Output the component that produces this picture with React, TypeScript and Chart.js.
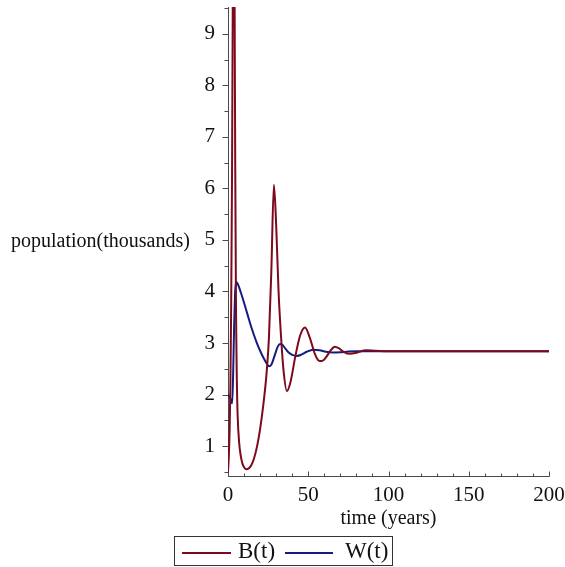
import React, { useEffect, useRef } from "react";
import { Chart, registerables } from "chart.js";

Chart.register(...registerables);

// ---- data ----
const tB = [0, 0.5, 1, 1.5, 2, 2.5, 3, 3.5, 4, 4.5, 5, 5.5, 6, 7, 8, 9, 10, 11.5, 13, 14.5, 16, 18, 20, 22, 24, 25.5, 27, 28.6, 30, 31.5, 33, 34.5, 36.7, 39, 42, 45, 48, 51, 54, 56.5, 58.5, 61, 64, 66.6, 69, 72, 76, 80, 86, 92, 100, 150, 200];
const bValues = [0.5, 0.8, 1.3, 2.2, 3.8, 6.2, 9.8, 12.5, 10.5, 6.5, 3.6, 2.3, 1.6, 1.05, 0.8, 0.66, 0.59, 0.55, 0.57, 0.63, 0.74, 0.98, 1.33, 1.8, 2.4, 3.1, 4.4, 6.07, 5.3, 4.0, 3.15, 2.5, 2.07, 2.25, 2.75, 3.15, 3.3, 3.1, 2.8, 2.66, 2.65, 2.72, 2.86, 2.93, 2.9, 2.83, 2.79, 2.81, 2.86, 2.85, 2.84, 2.84, 2.84];

const tW = [0, 1, 2, 2.6, 3.2, 3.8, 4.4, 5, 6, 8, 10, 12, 14, 16, 18, 20, 22, 24, 25.5, 27, 29, 31, 32.5, 34, 36, 38, 40, 43, 46, 49, 53, 57, 61, 65, 70, 75, 80, 90, 100, 150, 200];
const wValues = [2.0, 1.95, 1.88, 1.83, 2.4, 3.3, 3.95, 4.19, 4.15, 3.98, 3.78, 3.57, 3.36, 3.17, 3.0, 2.85, 2.72, 2.61, 2.55, 2.58, 2.75, 2.93, 2.98, 2.96, 2.88, 2.81, 2.77, 2.75, 2.78, 2.83, 2.87, 2.86, 2.83, 2.815, 2.82, 2.835, 2.84, 2.84, 2.84, 2.84, 2.84];

const seriesNames = ["B(t)", "W(t)"];
const xMajorTicks = [0, 50, 100, 150, 200];
const xMinorTicks = [10, 20, 30, 40, 60, 70, 80, 90, 110, 120, 130, 140, 160, 170, 180, 190];
const yMajorTicks = [1, 2, 3, 4, 5, 6, 7, 8, 9];
const yMinorTicks = [0.5, 1.5, 2.5, 3.5, 4.5, 5.5, 6.5, 7.5, 8.5, 9.5];
const xTitle = "time (years)";
const yTitle = "population(thousands)";

const RED = "#7c0a1c";
const BLUE = "#121c82";
const FONT = "'Liberation Serif', 'Times New Roman', serif";

const axesPlugin = {
  id: "mapleAxes",
  beforeDatasetsDraw(chart: any) {
    const ctx = chart.ctx;
    const xs = chart.scales.x;
    const ys = chart.scales.y;
    const { left, right, top, bottom } = chart.chartArea;
    const x0 = Math.round(left) + 0.5;
    const y0 = Math.round(bottom) + 0.5;
    ctx.save();
    ctx.strokeStyle = "#4a4a4a";
    ctx.lineWidth = 1;
    ctx.beginPath();
    ctx.moveTo(x0, top);
    ctx.lineTo(x0, y0);
    ctx.moveTo(x0, y0);
    ctx.lineTo(right + 0.5, y0);
    yMajorTicks.forEach((v) => {
      const y = Math.round(ys.getPixelForValue(v)) + 0.5;
      ctx.moveTo(x0 - 6, y);
      ctx.lineTo(x0, y);
    });
    yMinorTicks.forEach((v) => {
      const y = Math.round(ys.getPixelForValue(v)) + 0.5;
      ctx.moveTo(x0 - 4, y);
      ctx.lineTo(x0, y);
    });
    xMajorTicks.forEach((v) => {
      const x = Math.round(xs.getPixelForValue(v)) + 0.5;
      ctx.moveTo(x, y0);
      ctx.lineTo(x, y0 - 5);
    });
    xMinorTicks.forEach((v) => {
      const x = Math.round(xs.getPixelForValue(v)) + 0.5;
      ctx.moveTo(x, y0);
      ctx.lineTo(x, y0 - 3);
    });
    ctx.stroke();
    ctx.restore();
  },
  afterDraw(chart: any) {
    const ctx = chart.ctx;
    const { left, right, top, bottom } = chart.chartArea;
    ctx.save();
    ctx.fillStyle = "#111";
    ctx.font = `20px ${FONT}`;
    ctx.textBaseline = "middle";
    ctx.textAlign = "left";
    ctx.fillText(yTitle, 11, (top + bottom) / 2);
    ctx.textAlign = "center";
    ctx.fillText(xTitle, (left + right) / 2, 519);
    ctx.restore();
  },
};

export default function App() {
  const ref = useRef<HTMLCanvasElement>(null);
  useEffect(() => {
    const chart = new Chart(ref.current!, {
      type: "line",
      data: {
        datasets: [
          {
            label: seriesNames[0],
            data: tB.map((t, i) => ({ x: t, y: bValues[i] })),
            borderColor: RED,
            borderWidth: 2,
            pointRadius: 0,
            cubicInterpolationMode: "monotone",
            fill: false,
          },
          {
            label: seriesNames[1],
            data: tW.map((t, i) => ({ x: t, y: wValues[i] })),
            borderColor: BLUE,
            borderWidth: 2,
            pointRadius: 0,
            cubicInterpolationMode: "monotone",
            fill: false,
          },
        ],
      },
      options: {
        responsive: false,
        animation: false,
        layout: { padding: { top: 7, right: 16, bottom: 0, left: 0 } },
        plugins: { legend: { display: false }, tooltip: { enabled: false } },
        scales: {
          x: {
            type: "linear",
            min: 0,
            max: 200,
            grid: { display: false, drawTicks: false },
            border: { display: false },
            afterBuildTicks: (s: any) => {
              s.ticks = xMajorTicks.map((v) => ({ value: v }));
            },
            afterFit: (s: any) => {
              s.height = 91;
              s.paddingLeft = 0;
              s.paddingRight = 0;
            },
            ticks: {
              padding: 7,
              maxRotation: 0,
              autoSkip: false,
              color: "#111",
              font: { family: FONT, size: 21 },
            },
          },
          y: {
            type: "linear",
            min: 0.42,
            max: 9.52,
            grid: { display: false, drawTicks: false },
            border: { display: false },
            afterBuildTicks: (s: any) => {
              s.ticks = yMajorTicks.map((v) => ({ value: v }));
            },
            afterFit: (s: any) => {
              s.width = 228;
              s.paddingTop = 0;
              s.paddingBottom = 0;
            },
            ticks: {
              padding: 13,
              autoSkip: false,
              color: "#111",
              font: { family: FONT, size: 21 },
              callback: (v: any) => String(v),
            },
          },
        },
      },
      plugins: [axesPlugin],
    });
    return () => chart.destroy();
  }, []);

  return (
    <div style={{ position: "fixed", left: 0, top: 0, width: 565, height: 567, background: "#fff", overflow: "hidden" }}>
      <canvas ref={ref} width={565} height={567} style={{ position: "absolute", left: 0, top: 0, width: 565, height: 567 }} />
      <div
        style={{
          position: "absolute",
          left: 174,
          top: 536,
          width: 219,
          height: 30,
          border: "1px solid #333",
          boxSizing: "border-box",
          fontFamily: FONT,
          fontSize: 23,
          color: "#111",
        }}
      >
        <div style={{ position: "absolute", left: 7, top: 15, width: 49, height: 2, background: RED }} />
        <div style={{ position: "absolute", left: 63, top: 0, lineHeight: "28px", whiteSpace: "nowrap" }}>{seriesNames[0]}</div>
        <div style={{ position: "absolute", left: 110, top: 15, width: 48, height: 2, background: BLUE }} />
        <div style={{ position: "absolute", left: 170, top: 0, lineHeight: "28px", whiteSpace: "nowrap" }}>{seriesNames[1]}</div>
      </div>
    </div>
  );
}
